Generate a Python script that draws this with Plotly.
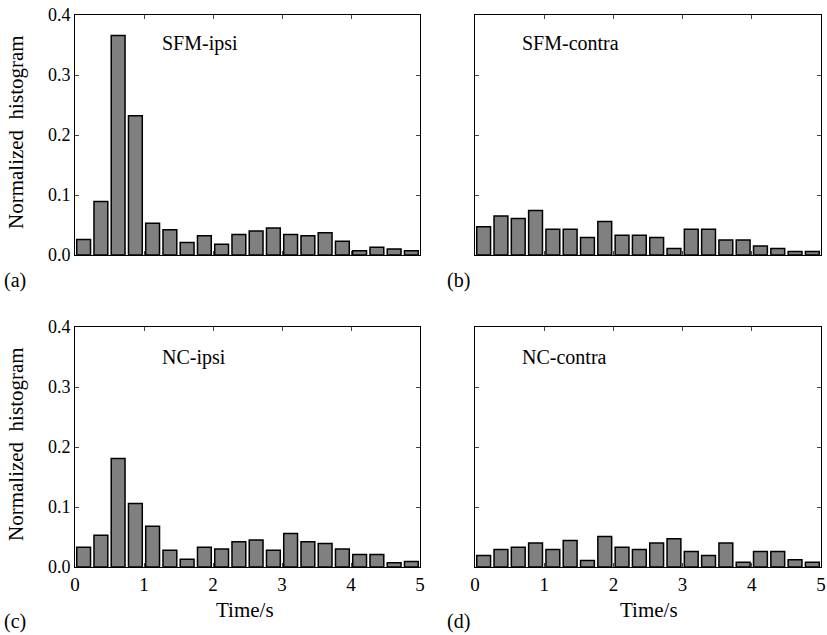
import plotly.graph_objects as go

bin_centers = [0.125 + 0.25 * i for i in range(20)]

sfm_ipsi = [0.026, 0.089, 0.366, 0.232, 0.053, 0.042, 0.021, 0.032, 0.018, 0.034,
            0.040, 0.045, 0.034, 0.032, 0.037, 0.023, 0.007, 0.013, 0.010, 0.007]
sfm_contra = [0.047, 0.065, 0.061, 0.074, 0.043, 0.043, 0.029, 0.056, 0.033, 0.033,
              0.029, 0.011, 0.043, 0.043, 0.025, 0.025, 0.015, 0.011, 0.006, 0.006]
nc_ipsi = [0.033, 0.053, 0.181, 0.106, 0.068, 0.028, 0.013, 0.033, 0.030, 0.042,
           0.045, 0.028, 0.056, 0.042, 0.039, 0.030, 0.021, 0.021, 0.007, 0.009]
nc_contra = [0.019, 0.029, 0.033, 0.040, 0.029, 0.044, 0.011, 0.051, 0.033, 0.029,
             0.040, 0.047, 0.026, 0.019, 0.040, 0.008, 0.026, 0.026, 0.012, 0.008]

panel_names = ["SFM-ipsi", "SFM-contra", "NC-ipsi", "NC-contra"]
panel_letters = ["(a)", "(b)", "(c)", "(d)"]
x_ticks = [0, 1, 2, 3, 4, 5]
y_ticks = [0.0, 0.1, 0.2, 0.3, 0.4]

W, H = 827, 635
FONT = "Liberation Serif"

def px_x(v):
    return v / W

def px_y(v):
    return 1 - v / H

xdoms = [[px_x(75), px_x(420)], [px_x(475), px_x(821)]]
ydoms = [[px_y(255), px_y(15)], [px_y(567), px_y(327)]]

fig = go.Figure()
series = [sfm_ipsi, sfm_contra, nc_ipsi, nc_contra]
layout = {}
annotations = []
for k, vals in enumerate(series):
    row, col = divmod(k, 2)
    idx = "" if k == 0 else str(k + 1)
    fig.add_trace(go.Bar(
        x=bin_centers, y=vals, width=0.2,
        marker=dict(color="#808080", line=dict(color="black", width=1.5)),
        xaxis="x" + idx, yaxis="y" + idx, showlegend=False,
    ))
    layout["xaxis" + idx] = dict(
        domain=xdoms[col], range=[0, 5], anchor="y" + idx,
        tickvals=x_ticks, ticktext=[str(t) for t in x_ticks],
        showticklabels=(row == 1), ticks="inside", ticklen=4,
        showline=True, linecolor="black", linewidth=1, mirror="ticks",
        showgrid=False, zeroline=False, automargin=False,
        tickfont=dict(family=FONT, size=19, color="black"),
    )
    layout["yaxis" + idx] = dict(
        domain=ydoms[row], range=[0, 0.4], anchor="x" + idx,
        tickvals=y_ticks, ticktext=["%.1f" % t for t in y_ticks],
        showticklabels=(col == 0), ticks="inside", ticklen=4,
        showline=True, linecolor="black", linewidth=1, mirror="ticks",
        showgrid=False, zeroline=False, automargin=False,
        tickfont=dict(family=FONT, size=18, color="black"),
    )
    name_x = [160, 520][col]
    name_y = [43, 357][row]
    annotations.append(dict(
        text=panel_names[k], x=px_x(name_x), y=px_y(name_y), xref="paper", yref="paper",
        xanchor="left", yanchor="middle", showarrow=False,
        font=dict(family=FONT, size=20, color="black"),
    ))
    lx = [2, 445][col]
    ly = [281, 621][row]
    annotations.append(dict(
        text=panel_letters[k], x=px_x(lx), y=px_y(ly), xref="paper", yref="paper",
        xanchor="left", yanchor="middle", showarrow=False,
        font=dict(family=FONT, size=20, color="black"),
    ))

for row in range(2):
    cy = [132, 444][row]
    annotations.append(dict(
        text="Normalized&nbsp;&nbsp;histogram", x=px_x(16), y=px_y(cy), xref="paper", yref="paper",
        xanchor="center", yanchor="middle", showarrow=False, textangle=-90,
        font=dict(family=FONT, size=21, color="black"),
    ))
for col in range(2):
    cx = [245, 649][col]
    annotations.append(dict(
        text="Time/s", x=px_x(cx), y=px_y(610), xref="paper", yref="paper",
        xanchor="center", yanchor="middle", showarrow=False,
        font=dict(family=FONT, size=21, color="black"),
    ))

fig.update_layout(
    width=W, height=H, margin=dict(l=0, r=0, t=0, b=0),
    paper_bgcolor="white", plot_bgcolor="white",
    annotations=annotations, **layout,
)
fig.write_html("out.html", config={"displayModeBar": False},
               post_script="document.body.style.margin='0';")
